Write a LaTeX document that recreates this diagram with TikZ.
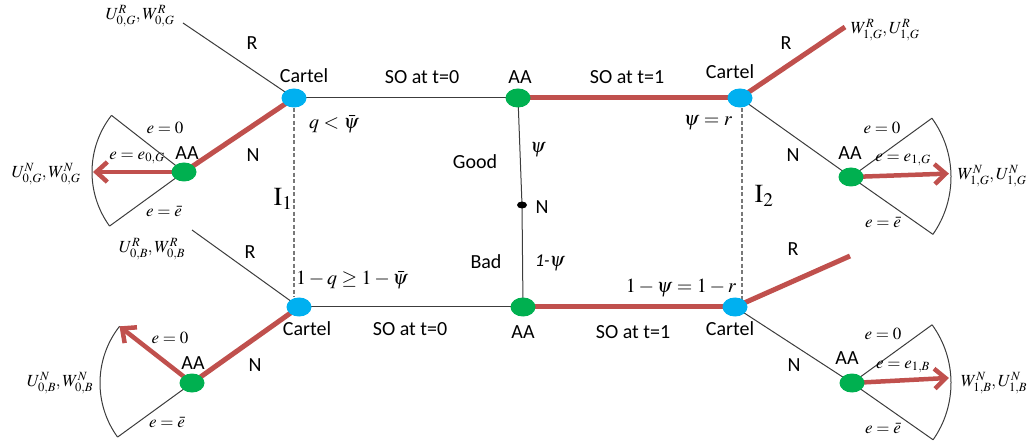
\documentclass[tikz,border=0pt]{standalone}
\usepackage{mathptmx}
\usepackage[no-math]{fontspec}
\setmainfont{Carlito}
\usetikzlibrary{shapes.geometric,arrows.meta,calc}
\pgfdeclarelayer{background}
\pgfsetlayers{background,main}
\definecolor{cred}{RGB}{192,80,77}
\definecolor{cblue}{RGB}{0,176,240}
\definecolor{cgreen}{RGB}{0,176,80}
\definecolor{cline}{RGB}{60,60,60}
\definecolor{cdash}{RGB}{120,120,120}
\begin{document}
\begin{tikzpicture}[x=1pt,y=-1pt,
  cartel/.style={ellipse,fill=cblue,minimum width=25pt,minimum height=19pt,inner sep=0pt},
  aa/.style={ellipse,fill=cgreen,minimum width=25pt,minimum height=19pt,inner sep=0pt},
  conn/.style={draw=cline,line width=1pt},
  redline/.style={draw=cred,line width=5pt},
  redarrow/.style={draw=cred,line width=4.5pt,-{Straight Barb[length=11pt,width=20pt]}},
  dashline/.style={draw=cdash,line width=1.2pt,dash pattern=on 4pt off 2.5pt},
  txt/.style={font=\fontsize{20}{22}\selectfont,inner sep=0pt},
  mth/.style={font=\fontsize{17}{19}\selectfont,inner sep=0pt},
  bigmth/.style={font=\fontsize{20}{22}\selectfont,inner sep=0pt},
  inum/.style={font=\fontsize{26}{28}\selectfont,inner sep=0pt}]
\useasboundingbox (0,0) rectangle (1027,443);

% main nodes
\node[cartel] (cTL) at (294,98) {};
\node[aa] (aT) at (518,98) {};
\node[cartel] (cTR) at (740,98) {};
\node[cartel] (cBL) at (299,307) {};
\node[aa] (aB) at (523,307) {};
\node[cartel] (cBR) at (735,307) {};
\node[ellipse,fill=black,minimum width=10pt,minimum height=7pt,inner sep=0pt] (nM) at (522,205) {};
\node[aa] (aTL) at (184,172) {};
\node[aa] (aBL) at (192,383) {};
\node[aa] (aTR) at (851,177) {};
\node[aa] (aBR) at (852,383) {};

% free ends
\coordinate (uTL) at (183,23);
\coordinate (uBL) at (192,230);
\coordinate (rTR) at (845,27);
\coordinate (rBR) at (850,256);
\coordinate (fTLu) at ($(aTL.center)+(218:92)$);
\coordinate (fTLd) at ($(aTL.center)+(144:92)$);
\coordinate (fTLt) at ($(aTL.center)+(180:91)$);
\coordinate (fBLu) at ($(aBL.center)+(218:92)$);
\coordinate (fBLd) at ($(aBL.center)+(144:92)$);
\coordinate (fTRu) at ($(aTR.center)+(-36:100)$);
\coordinate (fTRd) at ($(aTR.center)+(35:100)$);
\coordinate (fTRt) at ($(aTR.center)+(-2:98)$);
\coordinate (fBRu) at ($(aBR.center)+(-36:99)$);
\coordinate (fBRd) at ($(aBR.center)+(35:99)$);
\coordinate (fBRt) at ($(aBR.center)+(-3:97)$);

\begin{pgfonlayer}{background}
  \draw[conn] (cTL.center) -- (aT.center);
  \draw[redline] (aT.center) -- (cTR.center);
  \draw[conn] (cBL.center) -- (aB.center);
  \draw[redline] (aB.center) -- (cBR.center);
  \draw[conn] (aT.center) -- (nM.center) -- (aB.center);
  \draw[conn] (cTL.center) -- (uTL);
  \draw[conn] (cBL.center) -- (uBL);
  \draw[redline] (cTL.center) -- (aTL.center);
  \draw[redline] (cBL.center) -- (aBL.center);
  \draw[redline] (cTR.center) -- (rTR);
  \draw[redline] (cBR.center) -- (rBR);
  \draw[conn] (cTR.center) -- (aTR.center);
  \draw[conn] (cBR.center) -- (aBR.center);
  % fans
  \draw[conn] (fTLu) -- (aTL.center) -- (fTLd);
  \draw[conn] (fTLu) arc[start angle=218,end angle=144,radius=92];
  \draw[conn] (fBLu) -- (aBL.center) -- (fBLd);
  \draw[conn] (fBLu) arc[start angle=218,end angle=144,radius=92];
  \draw[conn] (fTRu) -- (aTR.center) -- (fTRd);
  \draw[conn] (fTRu) arc[start angle=-36,end angle=35,radius=100];
  \draw[conn] (fBRu) -- (aBR.center) -- (fBRd);
  \draw[conn] (fBRu) arc[start angle=-36,end angle=35,radius=99];
  \draw[redarrow] (aTL.center) -- (fTLt);
  \draw[redarrow] (aBL.center) -- (fBLu);
  \draw[redarrow] (aTR.center) -- (fTRt);
  \draw[redarrow] (aBR.center) -- (fBRt);
  % dashed
  \draw[dashline] (cTL.south) -- (cTL.south |- cBL.north);
  \draw[dashline] ([xshift=2pt]cTR.south) -- ([xshift=2pt]cTR.south |- cBR.north east);
\end{pgfonlayer}

% center labels
\node[txt] (lc1) at (304,76) {Cartel};
\node[txt] (ls1) at (422,77) {SO at t=0};
\node[txt] (la1) at (520,77) {AA};
\node[txt] (ls2) at (627,77) {SO at t=1};
\node[txt] (lc2) at (730,72) {Cartel};
\node[bigmth] (lq1) at (334,124) {$q<\bar{\psi}$};
\node[bigmth] (lpr) at (708,123) {$\psi=r$};
\node[txt] (lgood) at (475,162) {Good};
\node[bigmth] (lpsi) at (538,150) {$\psi$};
\node[txt] (lnm) at (542,207) {N};
\node[txt] (lbad) at (486,262) {Bad};
\node[bigmth] (l1psi) at (550,263) {{\fontsize{18}{20}\itshape 1-}$\psi$};
\node[bigmth] (lq2) at (352,280) {$1-q\geq 1-\bar{\psi}$};
\node[bigmth] (lpr2) at (681,288) {$1-\psi=1-r$};
\node[txt] (lc3) at (307,329) {Cartel};
\node[txt] (ls3) at (410,329) {SO at t=0};
\node[txt] (la2) at (523,332) {AA};
\node[txt] (ls4) at (633,332) {SO at t=1};
\node[txt] (lc4) at (730,329) {Cartel};
\node[inum] (lI1) at (283,199) {$\mathrm{I}_1$};
\node[inum] (lI2) at (764,196) {$\mathrm{I}_2$};

% left top
\node[mth] (lu1) at (140,16) {$U^{R}_{0,G},W^{R}_{0,G}$};
\node[txt] (lr1) at (252,43) {R};
\node[txt] (ln1) at (253,155) {N};
\node[txt] (laa1) at (187,153) {AA};
\node[mth] (le1) at (165,128) {$e=0$};
\node[mth] (le2) at (137,158) {$e=e_{0,G}$};
\node[mth] (le3) at (164,211) {$e=\bar{e}$};
\node[mth] (lun1) at (46,174) {$U^{N}_{0,G},W^{N}_{0,G}$};

% left bottom
\node[mth] (lu2) at (152,249) {$U^{R}_{0,B},W^{R}_{0,B}$};
\node[txt] (lr2) at (250,252) {R};
\node[txt] (ln2) at (255,365) {N};
\node[txt] (laa2) at (193,363) {AA};
\node[mth] (le4) at (170,338) {$e=0$};
\node[mth] (le5) at (167,422) {$e=\bar{e}$};
\node[mth] (lun2) at (60,383) {$U^{N}_{0,B},W^{N}_{0,B}$};

% right top
\node[mth] (lw1) at (885,30) {$W^{R}_{1,G},U^{R}_{1,G}$};
\node[txt] (lr3) at (786,43) {R};
\node[txt] (ln3) at (793,155) {N};
\node[txt] (laa3) at (850,153) {AA};
\node[mth] (le6) at (882,128) {$e=0$};
\node[mth] (le7) at (903,160) {$e=e_{1,G}$};
\node[mth] (le8) at (883,222) {$e=\bar{e}$};
\node[mth] (lwn1) at (992,176) {$W^{N}_{1,G},U^{N}_{1,G}$};

% right bottom
\node[txt] (lr4) at (793,249) {R};
\node[txt] (ln4) at (794,365) {N};
\node[txt] (laa4) at (847,358) {AA};
\node[mth] (le9) at (883,334) {$e=0$};
\node[mth] (le10) at (903,367) {$e=e_{1,B}$};
\node[mth] (le11) at (883,428) {$e=\bar{e}$};
\node[mth] (lwn2) at (994,383) {$W^{N}_{1,B},U^{N}_{1,B}$};
\end{tikzpicture}
\end{document}
